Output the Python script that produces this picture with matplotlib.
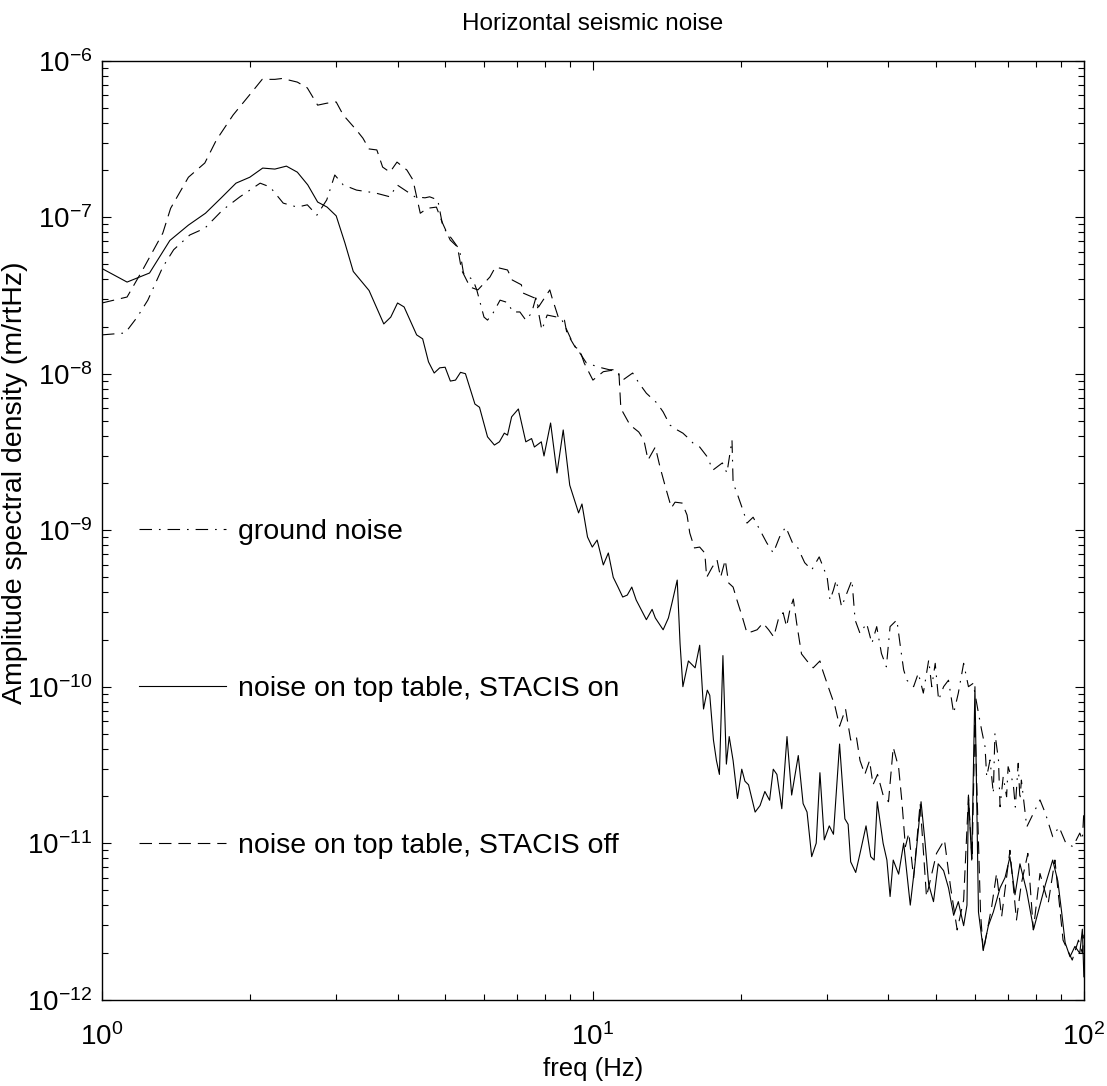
import matplotlib
matplotlib.use('Agg')
import matplotlib.pyplot as plt
from matplotlib.ticker import LogLocator, NullFormatter

# ground noise (dash-dot)
freq_ground = [1.0, 1.115, 1.18, 1.24, 1.33, 1.4, 1.51, 1.62, 1.76, 1.91, 2.1, 2.2, 2.34, 2.5, 2.62,
               2.74, 2.87, 2.98, 3.1, 3.3, 3.6, 3.86, 3.99, 4.14, 4.34, 4.55, 4.65, 4.83, 4.95, 5.18,
               5.35, 5.45, 5.7, 5.8, 6.0, 6.1, 6.26, 6.47, 6.7, 6.87, 7.1, 7.3, 7.5, 7.65, 7.87,
               8.07, 8.45, 8.65, 8.85, 9.1, 9.4, 9.7, 10.3, 10.8, 11.1, 11.5, 12.05, 12.4, 12.85,
               13.5, 13.9, 14.35, 14.85, 15.25, 15.55, 16.0, 16.5, 17.1, 17.55, 18.35, 18.75, 19.2,
               19.3, 19.65, 20.3, 20.6, 21.2, 21.9, 22.6, 23.3, 24.0, 24.7, 25.5, 26.1, 27.0, 27.9,
               28.9, 30.0, 30.4, 30.9, 31.3, 32.1, 32.7, 33.7, 34.2, 35.0, 36.1, 37.0, 37.85, 38.7,
               39.6, 40.3, 41.6, 42.3, 42.95, 43.6, 45.0, 46.0, 47.1, 48.3, 49.0, 49.8, 50.6, 51.8,
               53.0, 54.3, 55.5, 56.9, 58.2, 59.5, 61.0, 61.9, 62.9, 63.4, 64.4, 65.4, 65.9, 67.0,
               67.5, 68.5, 69.6, 70.1, 71.8, 72.5, 73.5, 74.1, 74.6, 76.5, 78.9, 81.4, 83.5, 86.4,
               89.0, 91.9, 95.0, 98.1, 99.3, 100.0]
asd_ground = [1.77e-8, 1.82e-8, 2.3e-8, 2.95e-8, 4.8e-8, 6.2e-8, 7.7e-8, 8.5e-8, 1.11e-7, 1.35e-7,
              1.65e-7, 1.56e-7, 1.23e-7, 1.16e-7, 1.2e-7, 1.03e-7, 1.29e-7, 1.86e-7, 1.61e-7, 1.49e-7,
              1.43e-7, 1.35e-7, 1.61e-7, 1.49e-7, 1.35e-7, 1.33e-7, 1.35e-7, 1.29e-7, 8.65e-8, 7.15e-8,
              6.2e-8, 4.4e-8, 3.97e-8, 3.43e-8, 2.3e-8, 2.2e-8, 2.44e-8, 2.95e-8, 2.85e-8, 2.48e-8,
              2.48e-8, 2.2e-8, 2.44e-8, 3.05e-8, 1.9e-8, 2.37e-8, 2.3e-8, 2.2e-8, 1.9e-8, 1.57e-8,
              1.36e-8, 1.17e-8, 1.1e-8, 1.06e-8, 1.06e-8, 9.1e-9, 1.01e-8, 8.75e-9, 7.5e-9, 6.5e-9,
              5.7e-9, 4.7e-9, 4.37e-9, 4.17e-9, 3.94e-9, 3.6e-9, 3.4e-9, 2.94e-9, 2.42e-9, 2.69e-9,
              2.32e-9, 3.77e-9, 2.0e-9, 1.73e-9, 1.29e-9, 1.11e-9, 1.21e-9, 1.0e-9, 8.3e-10, 7.15e-10,
              9.05e-10, 1.05e-9, 8.3e-10, 7.8e-10, 6.2e-10, 5.57e-10, 6.75e-10, 5.0e-10, 3.58e-10,
              4.15e-10, 4.8e-10, 3.24e-10, 3.76e-10, 4.8e-10, 2.67e-10, 2.19e-10, 2.54e-10, 1.89e-10,
              2.42e-10, 1.63e-10, 1.34e-10, 2.42e-10, 2.67e-10, 1.8e-10, 1.28e-10, 1.1e-10, 1.0e-10,
              1.22e-10, 9.1e-11, 1.48e-10, 1.0e-10, 1.41e-10, 8.2e-11, 1.0e-10, 1.1e-10, 6.76e-11,
              9.1e-11, 1.41e-10, 1.0e-10, 1.05e-10, 6.76e-11, 5.29e-11, 4.14e-11, 2.66e-11, 3.4e-11,
              2.08e-11, 5.03e-11, 3.4e-11, 1.71e-11, 2.66e-11, 1.98e-11, 3.08e-11, 2.41e-11, 1.7e-11,
              3.24e-11, 1.89e-11, 2.53e-11, 1.27e-11, 1.55e-11, 1.89e-11, 1.55e-11, 1.1e-11, 1.27e-11,
              1.0e-11, 9.5e-12, 1.16e-11, 1.05e-11, 1.6e-11]

# top table, STACIS on (solid)
freq_on = [1.0, 1.125, 1.25, 1.375, 1.5, 1.625, 1.75, 1.875, 2.0, 2.125, 2.25, 2.375, 2.5, 2.625,
           2.75, 2.875, 3.0, 3.125, 3.25, 3.5, 3.75, 3.875, 4.0, 4.125, 4.375, 4.5, 4.625, 4.75,
           4.875, 5.0, 5.125, 5.25, 5.375, 5.5, 5.75, 5.875, 6.1, 6.3, 6.45, 6.6, 6.7, 6.83, 7.05,
           7.3, 7.5, 7.6, 7.85, 7.95, 8.2, 8.45, 8.7, 8.97, 9.35, 9.5, 9.75, 9.97, 10.2, 10.5,
           10.75, 11.0, 11.25, 11.5, 11.75, 12.0, 12.25, 12.85, 13.2, 13.4, 13.9, 14.25, 14.5,
           14.85, 15.05, 15.25, 15.65, 16.15, 16.5, 16.8, 17.1, 17.3, 17.6, 17.85, 18.1, 18.4,
           18.7, 18.95, 19.3, 19.7, 20.1, 20.4, 20.75, 21.4, 21.9, 22.4, 22.9, 23.3, 23.7, 24.25,
           24.85, 25.4, 26.2, 26.8, 27.3, 27.9, 28.5, 29.0, 29.6, 30.3, 30.9, 31.8, 32.6, 33.1,
           33.5, 34.3, 35.0, 36.0, 36.8, 37.4, 37.95, 39.0, 39.7, 40.3, 40.9, 41.95, 42.95, 43.5,
           44.3, 45.3, 46.6, 47.5, 48.3, 49.4, 50.5, 51.8, 53.0, 54.3, 55.5, 56.9, 57.8, 58.2,
           59.1, 60.0, 61.0, 62.4, 63.9, 65.4, 67.5, 69.1, 70.7, 72.4, 74.1, 76.5, 79.0, 81.4,
           83.5, 86.4, 88.5, 90.1, 91.6, 93.7, 95.9, 98.1, 99.3, 100.0]
asd_on = [4.7e-8, 3.85e-8, 4.4e-8, 7.1e-8, 8.9e-8, 1.06e-7, 1.33e-7, 1.65e-7, 1.8e-7, 2.06e-7,
          2.03e-7, 2.12e-7, 1.94e-7, 1.61e-7, 1.25e-7, 1.16e-7, 1.02e-7, 6.85e-8, 4.5e-8, 3.4e-8,
          2.08e-8, 2.3e-8, 2.83e-8, 2.67e-8, 1.77e-8, 1.67e-8, 1.19e-8, 1.01e-8, 1.09e-8, 1.1e-8,
          8.97e-9, 9.1e-9, 1.02e-8, 1.0e-8, 6.4e-9, 6.1e-9, 3.95e-9, 3.5e-9, 3.67e-9, 4.17e-9,
          4.05e-9, 5.3e-9, 5.95e-9, 3.67e-9, 3.85e-9, 3.4e-9, 3.67e-9, 2.98e-9, 4.84e-9, 2.32e-9,
          4.37e-9, 1.94e-9, 1.29e-9, 1.47e-9, 9.05e-10, 7.8e-10, 8.65e-10, 6.0e-10, 7.15e-10,
          5.0e-10, 4.33e-10, 3.74e-10, 3.85e-10, 4.33e-10, 3.58e-10, 2.68e-10, 3.12e-10, 2.75e-10,
          2.31e-10, 2.75e-10, 3.46e-10, 4.8e-10, 1.88e-10, 1.0e-10, 1.46e-10, 1.32e-10, 1.84e-10,
          7.2e-11, 9.5e-11, 8.8e-11, 4.56e-11, 3.37e-11, 2.75e-11, 1.58e-10, 3.2e-11, 4.8e-11,
          3.37e-11, 1.93e-11, 2.97e-11, 2.49e-11, 2.36e-11, 1.58e-11, 1.74e-11, 2.14e-11, 1.88e-11,
          2.97e-11, 2.75e-11, 1.66e-11, 4.8e-11, 2.03e-11, 3.63e-11, 1.79e-11, 1.58e-11, 8.2e-12,
          1.0e-11, 2.82e-11, 1.05e-11, 1.29e-11, 1.14e-11, 4.3e-11, 1.43e-11, 1.32e-11, 7.6e-12,
          6.5e-12, 8.6e-12, 1.29e-11, 8.2e-12, 7.8e-12, 1.84e-11, 1.0e-11, 7.8e-12, 4.56e-12,
          7.8e-12, 6.34e-12, 1.0e-11, 6.85e-12, 4.02e-12, 7.38e-12, 1.84e-11, 1.0e-11, 5.45e-12,
          4.23e-12, 7.38e-12, 6.67e-12, 5.18e-12, 3.46e-12, 4.23e-12, 2.97e-12, 4.02e-12, 2.03e-11,
          7.8e-12, 1.0e-10, 3.63e-12, 2.08e-12, 2.97e-12, 3.63e-12, 5.18e-12, 6.03e-12, 8.17e-12,
          4.68e-12, 7.38e-12, 4.92e-12, 2.82e-12, 4.02e-12, 5.45e-12, 7.8e-12, 5.73e-12, 3.63e-12,
          2.31e-12, 1.88e-12, 2.19e-12, 1.98e-12, 2.82e-12, 1.4e-12]

# top table, STACIS off (dashed)
freq_off = [1.0, 1.125, 1.21, 1.33, 1.38, 1.5, 1.62, 1.71, 1.85, 2.02, 2.12, 2.25, 2.33, 2.5, 2.62,
            2.75, 2.87, 3.0, 3.1, 3.3, 3.4, 3.5, 3.63, 3.73, 3.86, 3.99, 4.18, 4.3, 4.45, 4.6,
            4.8, 4.93, 5.12, 5.3, 5.4, 5.49, 5.62, 5.83, 6.17, 6.33, 6.7, 6.85, 7.15, 7.2, 7.6,
            7.75, 8.17, 8.25, 8.5, 8.75, 8.85, 9.2, 9.4, 9.6, 10.0, 10.5, 10.9, 11.3, 11.4, 11.9,
            12.4, 12.7, 12.95, 13.4, 13.7, 14.05, 14.45, 14.7, 15.2, 15.55, 15.75, 16.1, 16.5,
            16.9, 17.05, 17.5, 17.9, 18.2, 18.6, 18.9, 19.3, 19.65, 20.15, 20.6, 21.1, 21.6, 22.2,
            22.8, 23.35, 23.85, 24.4, 24.8, 25.2, 25.6, 26.0, 26.6, 27.3, 28.1, 29.0, 29.4, 30.4,
            31.1, 31.8, 32.7, 33.5, 34.4, 35.0, 35.8, 36.6, 37.2, 38.0, 39.0, 40.0, 40.9, 41.95,
            42.6, 43.3, 44.0, 45.0, 46.4, 47.8, 50.1, 52.0, 53.5, 55.2, 56.9, 58.2, 59.2, 60.0,
            61.6, 62.4, 64.9, 66.4, 68.0, 70.7, 72.9, 74.6, 76.9, 78.9, 81.4, 84.6, 87.3, 90.7,
            94.7, 97.5, 99.3, 100.0]
asd_off = [2.83e-8, 3.09e-8, 4.6e-8, 7.9e-8, 1.14e-7, 1.8e-7, 2.22e-7, 3.11e-7, 4.5e-7, 6.3e-7,
           7.6e-7, 7.6e-7, 7.7e-7, 7.3e-7, 6.7e-7, 5.2e-7, 5.35e-7, 5.45e-7, 4.5e-7, 3.6e-7,
           3.2e-7, 2.73e-7, 2.69e-7, 2.09e-7, 1.94e-7, 2.25e-7, 2.0e-7, 1.73e-7, 1.06e-7, 1.14e-7,
           1.16e-7, 9.3e-8, 7.15e-8, 6.45e-8, 4.6e-8, 4.15e-8, 3.58e-8, 3.43e-8, 4.15e-8, 4.8e-8,
           4.6e-8, 3.97e-8, 3.7e-8, 3.28e-8, 3.05e-8, 2.67e-8, 3.43e-8, 3.08e-8, 2.3e-8, 2.2e-8,
           1.82e-8, 1.48e-8, 1.42e-8, 1.17e-8, 9.1e-9, 1.03e-8, 1.05e-8, 1.0e-8, 6.0e-9, 4.7e-9,
           4.24e-9, 3.77e-9, 2.81e-9, 3.4e-9, 2.53e-9, 1.89e-9, 1.39e-9, 1.51e-9, 1.49e-9, 1.25e-9,
           9.6e-10, 7.7e-10, 7.8e-10, 7.15e-10, 5.0e-10, 5.8e-10, 6.45e-10, 5.0e-10, 6.45e-10,
           4.6e-10, 4.33e-10, 3.58e-10, 2.79e-10, 2.2e-10, 2.25e-10, 2.31e-10, 2.55e-10, 2.31e-10,
           2.08e-10, 2.68e-10, 2.97e-10, 2.42e-10, 3.12e-10, 3.63e-10, 2.55e-10, 1.62e-10, 1.46e-10,
           1.32e-10, 1.46e-10, 1.26e-10, 9.27e-11, 7.57e-11, 5.59e-11, 7.2e-11, 4.56e-11, 4.8e-11,
           3.37e-11, 2.75e-11, 3.37e-11, 2.36e-11, 2.75e-11, 2.03e-11, 1.84e-11, 4.1e-11, 3.04e-11,
           1.84e-11, 9.5e-12, 1.16e-11, 6.0e-12, 1.8e-11, 4.55e-12, 8.6e-12, 1.05e-11, 5.27e-12,
           2.79e-12, 4.33e-12, 1.98e-11, 7.8e-12, 6.0e-11, 3.56e-12, 2.03e-12, 3.93e-12, 6.4e-12,
           3.39e-12, 9.0e-12, 3.23e-12, 5.53e-12, 8.6e-12, 2.79e-12, 6.4e-12, 4.13e-12, 7.8e-12,
           2.4e-12, 1.79e-12, 2.4e-12, 1.98e-12, 2.6e-12]

x_ticks = [1, 10, 100]
y_ticks = [1e-12, 1e-11, 1e-10, 1e-9, 1e-8, 1e-7, 1e-6]

plt.rcParams['font.family'] = ['Liberation Sans', 'DejaVu Sans']
plt.rcParams['mathtext.fontset'] = 'custom'
plt.rcParams['mathtext.rm'] = 'Liberation Sans'
plt.rcParams['mathtext.it'] = 'Liberation Sans:italic'
plt.rcParams['axes.unicode_minus'] = False
plt.rcParams['lines.scale_dashes'] = False

fig = plt.figure(figsize=(11.07, 10.86), dpi=100)
ax = fig.add_axes([0.0921, 0.0795, 0.887, 0.8646])

ax.plot(freq_ground, asd_ground, color='k', lw=0.8, dashes=(9, 5, 1.2, 5), label='ground noise')
ax.plot(freq_on, asd_on, color='k', lw=0.8, label='noise on top table, STACIS on')
ax.plot(freq_off, asd_off, color='k', lw=0.8, dashes=(9, 5), label='noise on top table, STACIS off')

ax.set_xscale('log')
ax.set_yscale('log')
ax.set_xticks(x_ticks)
ax.set_yticks(y_ticks)
ax.set_xlim(1, 100)
ax.set_ylim(1e-12, 1e-6)
ax.xaxis.set_minor_locator(LogLocator(base=10, subs=range(2, 10), numticks=20))
ax.yaxis.set_minor_locator(LogLocator(base=10, subs=range(2, 10), numticks=20))
ax.xaxis.set_minor_formatter(NullFormatter())
ax.yaxis.set_minor_formatter(NullFormatter())

ax.tick_params(which='both', direction='in', top=True, right=True, width=0.8, colors='k')
ax.tick_params(which='major', length=6.5, labelsize=20)
ax.tick_params(axis='y', which='major', pad=7)
ax.tick_params(axis='x', which='major', pad=17)
ax.tick_params(which='minor', length=4)
for s in ax.spines.values():
    s.set_linewidth(1.0)

ax.set_title('Horizontal seismic noise', fontsize=17.5, pad=22)
ax.set_xlabel('freq (Hz)', fontsize=18.5, labelpad=4)
ax.set_ylabel('Amplitude spectral density (m/rtHz)', fontsize=20.5)
ax.yaxis.set_label_coords(-0.0755, 0.55)

ax.legend(loc='center left', bbox_to_anchor=(0.0378, 0.331), frameon=False, fontsize=20.5,
          handlelength=3.05, handletextpad=0.42, labelspacing=4.6, borderpad=0, borderaxespad=0)

fig.savefig('out.png', dpi=100, facecolor='white')
